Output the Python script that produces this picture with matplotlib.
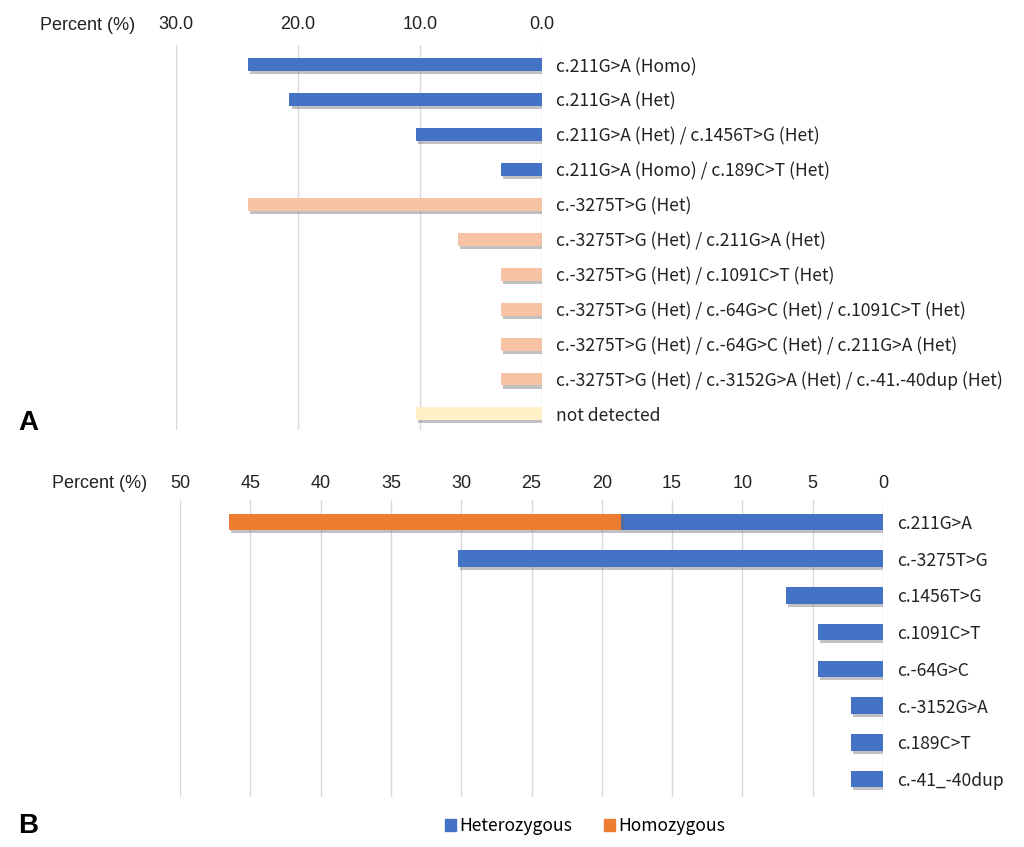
import matplotlib
matplotlib.use("Agg")
import matplotlib.pyplot as plt
import matplotlib.patheffects as pe
from matplotlib.patches import Patch

# Panel A: genotype combinations
genotypes = [
    "c.211G>A (Homo)",
    "c.211G>A (Het)",
    "c.211G>A (Het) / c.1456T>G (Het)",
    "c.211G>A (Homo) / c.189C>T (Het)",
    "c.-3275T>G (Het)",
    "c.-3275T>G (Het) / c.211G>A (Het)",
    "c.-3275T>G (Het) / c.1091C>T (Het)",
    "c.-3275T>G (Het) / c.-64G>C (Het) / c.1091C>T (Het)",
    "c.-3275T>G (Het) / c.-64G>C (Het) / c.211G>A (Het)",
    "c.-3275T>G (Het) / c.-3152G>A (Het) / c.-41.-40dup (Het)",
    "not detected",
]
geno_pct = [24.1, 20.7, 10.3, 3.4, 24.1, 6.9, 3.4, 3.4, 3.4, 3.4, 10.3]
geno_group = ["blue"] * 4 + ["peach"] * 6 + ["cream"]
group_colors = {"blue": "#4472C4", "peach": "#F8C3A4", "cream": "#FFF0C8"}

# Panel B: variant frequency
variants = ["c.211G>A", "c.-3275T>G", "c.1456T>G", "c.1091C>T",
            "c.-64G>C", "c.-3152G>A", "c.189C>T", "c.-41_-40dup"]
het_pct = [18.6, 30.2, 6.9, 4.6, 4.6, 2.3, 2.3, 2.3]
homo_pct = [27.9, 0, 0, 0, 0, 0, 0, 0]

c_het = "#4472C4"
c_homo = "#ED7D31"
grid_c = "#D9D9D9"
cat_font = ["Noto Sans CJK KR", "DejaVu Sans"]
tick_font = "Liberation Sans"

shadow = [pe.SimplePatchShadow(offset=(1.5, -2.2), shadow_rgbFace="#666666", alpha=0.4), pe.Normal()]

fig = plt.figure(figsize=(10.24, 8.47), dpi=100)


def style_axes(ax, ticks, fmt, pad):
    for s in ax.spines.values():
        s.set_visible(False)
    ax.xaxis.tick_top()
    ax.set_xticks(ticks)
    ax.set_xticklabels([fmt.format(t) for t in ticks], fontfamily=tick_font, fontsize=13, color="#222222")
    ax.tick_params(axis="x", length=0, pad=pad)
    ax.tick_params(axis="y", length=0, pad=10)
    ax.grid(axis="x", color=grid_c, linewidth=1)
    ax.set_axisbelow(True)
    ax.yaxis.tick_right()


# ---- A ----
axA = fig.add_axes([176 / 1024, 1 - 430 / 847, 366 / 1024, 385 / 847])
yA = list(range(len(genotypes)))
axA.barh(yA, geno_pct, height=0.37, color=[group_colors[g] for g in geno_group],
         path_effects=shadow, zorder=3)
axA.set_xlim(30, 0)
axA.set_ylim(10.46, -0.57)
style_axes(axA, [30, 20, 10, 0], "{:.1f}", 9)
axA.set_yticks(yA)
axA.set_yticklabels(genotypes, fontfamily=cat_font, fontsize=12.6, color="#222222")

# ---- B ----
axB = fig.add_axes([180 / 1024, 1 - 797 / 847, 703 / 1024, 297 / 847])
yB = list(range(len(variants)))
axB.barh(yB, het_pct, height=0.45, color=c_het, path_effects=shadow, zorder=3)
axB.barh(yB, homo_pct, left=het_pct, height=0.45, color=c_homo, path_effects=shadow, zorder=3)
axB.set_xlim(50, 0)
axB.set_ylim(7.49, -0.6)
style_axes(axB, [50, 45, 40, 35, 30, 25, 20, 15, 10, 5, 0], "{:.0f}", 6)
axB.set_yticks(yB)
axB.set_yticklabels(variants, fontfamily=cat_font, fontsize=12.6, color="#222222")

fig.text(40 / 1024, 1 - 25 / 847, "Percent (%)", fontfamily=tick_font, fontsize=13,
         ha="left", va="center", color="#222222")
fig.text(52 / 1024, 1 - 483 / 847, "Percent (%)", fontfamily=tick_font, fontsize=13,
         ha="left", va="center", color="#222222")
fig.text(18 / 1024, 1 - 423 / 847, "A", fontfamily=tick_font, fontsize=20,
         fontweight="bold", ha="left", va="center")
fig.text(18 / 1024, 1 - 826 / 847, "B", fontfamily=tick_font, fontsize=20,
         fontweight="bold", ha="left", va="center")

handles = [Patch(color=c_het, label="Heterozygous"), Patch(color=c_homo, label="Homozygous")]
leg = fig.legend(handles=handles, loc="center", bbox_to_anchor=(585 / 1024, 1 - 826 / 847),
                 ncol=2, frameon=False, handlelength=0.65, handleheight=0.65,
                 handletextpad=0.2, columnspacing=1.8,
                 prop={"family": cat_font, "size": 12.6})

fig.savefig("out.png", dpi=100)
